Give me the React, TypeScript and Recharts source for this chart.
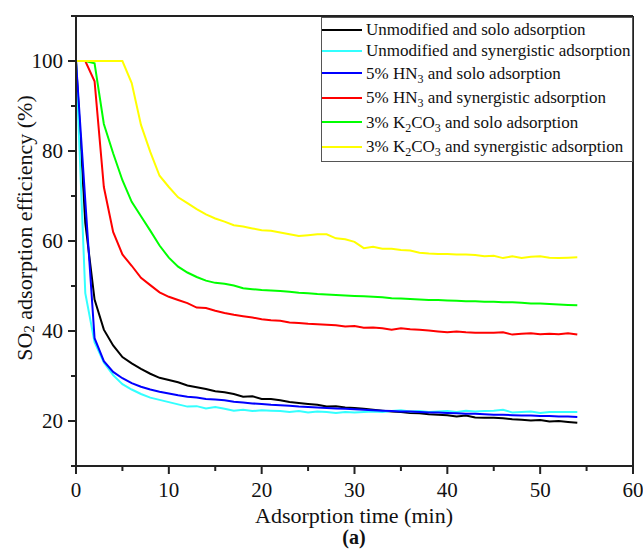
import React from 'react';
import { LineChart, Line, XAxis, YAxis, Label } from 'recharts';

// minutes
const times = [
  0, 1, 2, 3, 4, 5, 6, 7, 8, 9, 10, 11, 12, 13, 14, 15, 16, 17, 18, 19, 20, 21, 22, 23, 24, 25, 26, 27,
  28, 29, 30, 31, 32, 33, 34, 35, 36, 37, 38, 39, 40, 41, 42, 43, 44, 45, 46, 47, 48, 49, 50, 51, 52, 53, 54,
];

const unmodSolo = [
  100, 64, 47, 40.3, 36.8, 34.2, 32.8, 31.6, 30.5, 29.6, 29.1, 28.6, 27.9, 27.5, 27.1, 26.6, 26.4, 26.0, 25.4,
  25.5, 24.9, 24.9, 24.6, 24.2, 24.0, 23.8, 23.6, 23.2, 23.3, 23.0, 22.9, 22.7, 22.5, 22.3, 22.1, 22.0, 21.8,
  21.7, 21.5, 21.4, 21.3, 21.0, 21.2, 20.8, 20.7, 20.7, 20.6, 20.4, 20.3, 20.1, 20.2, 19.9, 20.0, 19.8, 19.6,
];
const unmodSyn = [
  100, 48.4, 37.5, 33, 30.2, 28.2, 27, 26, 25.2, 24.7, 24.2, 23.7, 23.2, 23.3, 22.8, 23.1, 22.7, 22.3, 22.5,
  22.2, 22.4, 22.3, 22.2, 22.0, 22.2, 21.9, 22.1, 22.0, 21.8, 22.0, 21.9, 22.0, 22.1, 22.0, 22.2, 22.4, 22.1,
  22.2, 22.0, 22.1, 22.2, 22.0, 22.3, 22.1, 22.2, 22.3, 22.5, 21.9, 22.0, 22.1, 21.8, 22.0, 22.0, 22.0, 22.0,
];
const hnSolo = [
  100, 69, 38.4, 33.3, 30.9, 29.5, 28.4, 27.6, 27.0, 26.5, 26.1, 25.7, 25.4, 25.2, 24.9, 24.8, 24.6, 24.3, 24.1,
  23.9, 23.8, 23.6, 23.5, 23.4, 23.2, 23.1, 23.0, 22.9, 22.8, 22.7, 22.6, 22.5, 22.4, 22.3, 22.2, 22.1, 22.1,
  22.0, 21.9, 21.9, 21.8, 21.7, 21.6, 21.6, 21.5, 21.4, 21.4, 21.3, 21.2, 21.2, 21.1, 21.1, 21.0, 21.0, 20.9,
];
const hnSyn = [
  100, 100, 95.5, 72, 62, 57, 54.5, 51.8, 50.2, 48.6, 47.6, 46.9, 46.2, 45.2, 45.1, 44.5, 44.0, 43.6, 43.3,
  43.0, 42.6, 42.4, 42.3, 41.9, 41.8, 41.6, 41.5, 41.4, 41.3, 41.0, 41.1, 40.7, 40.8, 40.6, 40.3, 40.6, 40.4,
  40.3, 40.1, 39.9, 39.7, 39.9, 39.7, 39.6, 39.6, 39.6, 39.7, 39.2, 39.4, 39.5, 39.3, 39.4, 39.3, 39.5, 39.2,
];
const kSolo = [
  100, 100, 99.5, 86, 79.5, 73.5, 68.7, 65.5, 62.3, 59.0, 56.3, 54.3, 53.0, 52.0, 51.2, 50.7, 50.5, 50.1, 49.5,
  49.3, 49.1, 49.0, 48.9, 48.7, 48.5, 48.4, 48.2, 48.1, 48.0, 47.9, 47.8, 47.7, 47.6, 47.5, 47.3, 47.2, 47.1,
  47.0, 46.9, 46.9, 46.8, 46.7, 46.6, 46.6, 46.5, 46.5, 46.4, 46.4, 46.3, 46.1, 46.1, 46.0, 45.9, 45.8, 45.7,
];
const kSyn = [
  100, 100, 100, 100, 100, 100, 95.1, 85.8, 79.8, 74.5, 72, 69.7, 68.4, 67.1, 65.9, 65.0, 64.3, 63.5, 63.2,
  62.8, 62.4, 62.3, 61.9, 61.5, 61.1, 61.3, 61.5, 61.5, 60.6, 60.4, 59.8, 58.4, 58.7, 58.3, 58.3, 58.0, 57.9,
  57.4, 57.2, 57.1, 57.1, 57.0, 57.0, 56.9, 56.6, 56.7, 56.2, 56.6, 56.2, 56.5, 56.6, 56.3, 56.2, 56.3, 56.4,
];

const xTicks = [0, 5, 10, 15, 20, 25, 30, 35, 40, 45, 50, 55, 60];
const yTicks = [10, 20, 30, 40, 50, 60, 70, 80, 90, 100, 110];

// legend label parts: odd entries are subscripts
const series = [
  { key: 'unmodSolo', color: '#000000', label: ['Unmodified and solo adsorption'] },
  { key: 'unmodSyn', color: '#33ffff', label: ['Unmodified and synergistic adsorption'] },
  { key: 'hnSolo', color: '#0000ff', label: ['5% HN', '3', ' and solo adsorption'] },
  { key: 'hnSyn', color: '#ff0000', label: ['5% HN', '3', ' and synergistic adsorption'] },
  { key: 'kSolo', color: '#00ff00', label: ['3% K', '2', 'CO', '3', ' and solo adsorption'] },
  { key: 'kSyn', color: '#ffff00', label: ['3% K', '2', 'CO', '3', ' and synergistic adsorption'] },
];

const data = times.map((t, i) => ({
  time: t,
  unmodSolo: unmodSolo[i],
  unmodSyn: unmodSyn[i],
  hnSolo: hnSolo[i],
  hnSyn: hnSyn[i],
  kSolo: kSolo[i],
  kSyn: kSyn[i],
}));

const FONT = '"Liberation Serif", "Times New Roman", serif';
const AXIS = '#222';

const XTick = (props: any) => {
  const { x, y, payload } = props;
  const major = payload.value % 10 === 0;
  return (
    <g>
      <line x1={x} y1={y} x2={x} y2={y + (major ? 8 : 5)} stroke={AXIS} strokeWidth={2} />
      {major && (
        <text x={x} y={y + 31} textAnchor="middle" fontSize={21} fontFamily={FONT} fill="#111">
          {payload.value}
        </text>
      )}
    </g>
  );
};

const YTick = (props: any) => {
  const { x, y, payload } = props;
  const v = payload.value;
  const major = v % 20 === 0 && v >= 20 && v <= 100;
  return (
    <g>
      <line x1={x} y1={y} x2={x - (major ? 8 : 5)} y2={y} stroke={AXIS} strokeWidth={2} />
      {major && (
        <text x={x - 13} y={y} dy="0.35em" textAnchor="end" fontSize={21} fontFamily={FONT} fill="#111">
          {v}
        </text>
      )}
    </g>
  );
};

const renderLabel = (parts: string[]) =>
  parts.map((p, i) =>
    i % 2 === 1 ? (
      <sub key={i} style={{ fontSize: 12, verticalAlign: 'sub', lineHeight: 0 }}>
        {p}
      </sub>
    ) : (
      <span key={i}>{p}</span>
    )
  );

const LegendBox = () => (
  <div
    style={{
      position: 'absolute',
      left: 321,
      top: 17,
      width: 310,
      height: 142,
      border: '1px solid #555',
      background: '#fff',
      paddingTop: 1,
      fontFamily: FONT,
      fontSize: 17,
      color: '#111',
    }}
  >
    {series.map((s) => (
      <div
        key={s.key}
        style={{ display: 'flex', alignItems: 'center', height: s.label.length > 1 ? 24.5 : 21, lineHeight: 1 }}
      >
        <div style={{ width: 40, height: 2, background: s.color, marginRight: 4 }} />
        <div style={{ whiteSpace: 'nowrap' }}>{renderLabel(s.label)}</div>
      </div>
    ))}
  </div>
);

export default function App() {
  return (
    <div style={{ position: 'absolute', left: 0, top: 0, width: 643, height: 555, background: '#fff' }}>
      <style>{'body{margin:0;}'}</style>
      <LineChart width={643} height={555} data={data} margin={{ top: 15, right: 9, bottom: 88, left: 75 }}>
        <XAxis
          dataKey="time"
          type="number"
          domain={[0, 60]}
          ticks={xTicks}
          interval={0}
          height={1}
          tickSize={0}
          tickMargin={0}
          tickLine={false}
          tick={<XTick />}
          axisLine={{ stroke: AXIS, strokeWidth: 2 }}
        >
          <Label
            content={() => (
              <g fontFamily={FONT} fill="#111">
                <text x={354} y={523} textAnchor="middle" fontSize={22}>
                  Adsorption time (min)
                </text>
                <text x={354} y={544} textAnchor="middle" fontSize={20} fontWeight="bold">
                  (a)
                </text>
              </g>
            )}
          />
        </XAxis>
        <XAxis
          xAxisId="top"
          orientation="top"
          type="number"
          domain={[0, 60]}
          height={1}
          tick={false}
          tickLine={false}
          axisLine={{ stroke: AXIS, strokeWidth: 2 }}
        />
        <YAxis
          type="number"
          domain={[10, 110]}
          ticks={yTicks}
          interval={0}
          width={1}
          tickSize={0}
          tickMargin={0}
          tickLine={false}
          tick={<YTick />}
          axisLine={{ stroke: AXIS, strokeWidth: 2 }}
        >
          <Label
            content={() => (
              <text
                x={24}
                y={228}
                transform="rotate(-90, 24, 228)"
                textAnchor="middle"
                dominantBaseline="central"
                fontSize={22}
                fontFamily={FONT}
                fill="#111"
              >
                SO
                <tspan dy={5} fontSize={15}>
                  2
                </tspan>
                <tspan dy={-5}> adsorption efficiency (%)</tspan>
              </text>
            )}
          />
        </YAxis>
        <YAxis
          yAxisId="right"
          orientation="right"
          type="number"
          domain={[10, 110]}
          width={1}
          tick={false}
          tickLine={false}
          axisLine={{ stroke: AXIS, strokeWidth: 2 }}
        />
        {series.map((s) => (
          <Line
            key={s.key}
            type="linear"
            dataKey={s.key}
            stroke={s.color}
            strokeWidth={2}
            dot={false}
            isAnimationActive={false}
          />
        ))}
      </LineChart>
      <LegendBox />
    </div>
  );
}
